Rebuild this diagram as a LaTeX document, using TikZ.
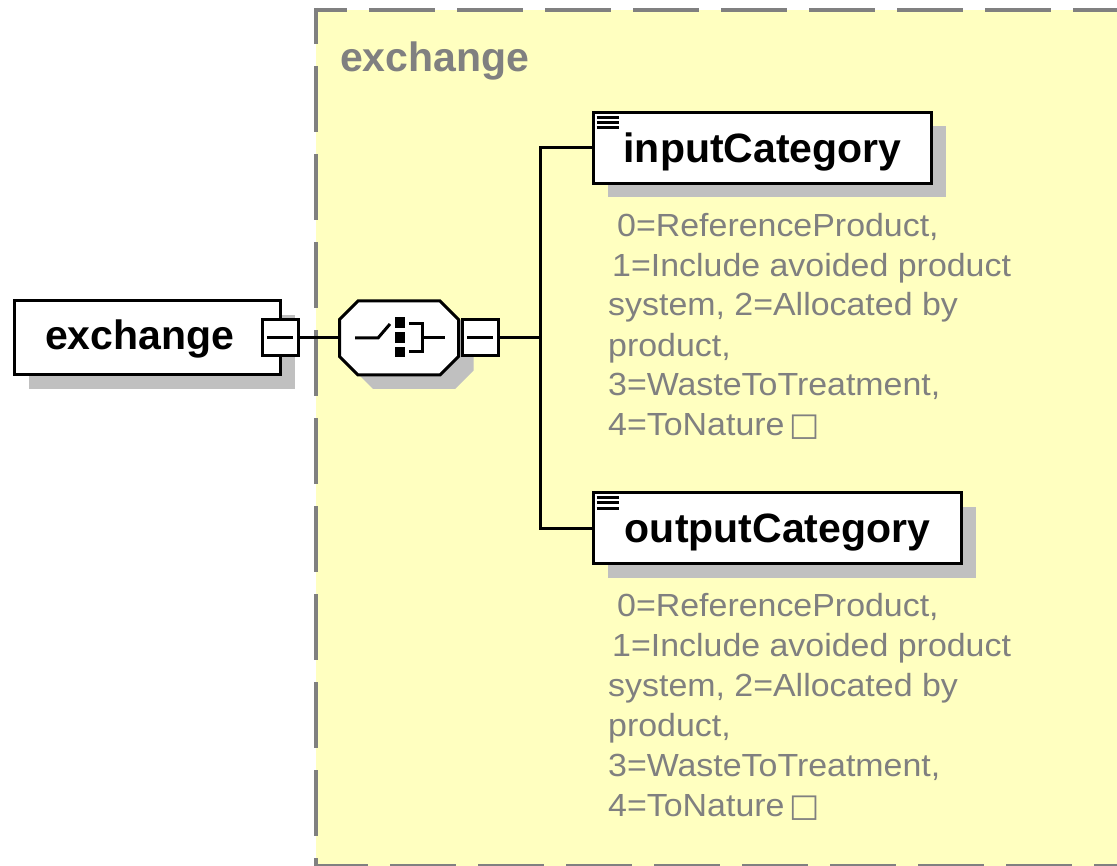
\documentclass[tikz,border=0pt]{standalone}
\usepackage{fontspec}
\setmainfont{Liberation Sans}
\newfontfamily\symfont{DejaVu Sans}
\newfontfamily\annofont[FakeStretch=1.06]{Liberation Sans}
\usetikzlibrary{shadows,calc}
\definecolor{bgyellow}{HTML}{FFFFC0}
\definecolor{txtgray}{HTML}{808080}
\definecolor{shgray}{HTML}{C0C0C0}
\begin{document}
\begin{tikzpicture}[x=1pt,y=-1pt,
  elem/.style={draw=black, line width=3pt, fill=white, rectangle, inner sep=0pt,
    general shadow={fill=shgray, shadow xshift=14pt, shadow yshift=-14pt},
    font=\fontsize{41}{41}\selectfont\bfseries, text depth=0pt},
  boldlbl/.style={inner sep=0pt, font=\fontsize{41}{41}\selectfont\bfseries},
  minbox/.style={draw=black, line width=3pt, fill=white, rectangle, inner sep=0pt,
    minimum size=36pt,
    path picture={\draw[line width=3pt] ([xshift=-13pt]path picture bounding box.center) -- ([xshift=13pt]path picture bounding box.center);}},
  conn/.style={draw=black, line width=3pt},
  anno/.style={text=txtgray, inner sep=0pt, align=left, anchor=base west,
    font=\annofont\fontsize{32}{40}\selectfont},
  border/.style={draw=txtgray, line width=4pt, dash pattern=on 66pt off 22pt},
  icon/.style={draw=black, line width=3pt}
]
\useasboundingbox (0,0) rectangle (1117,866);
\clip (0,0) rectangle (1117,866);
\fill[white] (0,0) rectangle (1117,866);

% group box
\fill[bgyellow] (316,10) rectangle (1150,900);
\draw[border, dash phase=33pt] (314,10) -- (1150,10);
\draw[border, dash phase=30pt] (316,8) -- (316,900);
\draw[border, dash phase=12pt] (314,866) -- (1150,866);
\node[boldlbl, text=txtgray, anchor=base west] (grouplbl) at (340,72) {exchange};

% root element
\node[elem, minimum width=266pt, minimum height=74pt] (exch) at (147.5,338) {};
\node[boldlbl, anchor=base west] (exchlbl) at (45,350) {exchange};
\node[minbox] (exchm) at (280,338) {};

% choice compositor
\node[inner sep=0pt, minimum width=119pt, minimum height=74pt] (cho) at (399,338) {};
\fill[shgray, shift={(414,352)}] (-41,-37) -- (41,-37) -- (59.5,-18.5) -- (59.5,18.5) -- (41,37) -- (-41,37) -- (-59.5,18.5) -- (-59.5,-18.5) -- cycle;
\draw[line width=3pt, fill=white, shift={(cho.center)}] (-41,-37) -- (41,-37) -- (59.5,-18.5) -- (59.5,18.5) -- (41,37) -- (-41,37) -- (-59.5,18.5) -- (-59.5,-18.5) -- cycle;
\draw[icon] (355,338) -- (378,338) -- (390,324);
\fill (394.5,317.5) rectangle (404.5,328);
\fill (394.5,332.5) rectangle (404.5,343);
\fill (394.5,347) rectangle (404.5,357.5);
\draw[icon] (409,324) -- (422,324) -- (422,352) -- (409,352);
\draw[icon] (422,338) -- (445,338);
\node[minbox] (chom) at (480,338) {};

% child elements
\node[elem, minimum width=338pt, minimum height=71pt] (inp) at (762.5,148) {inputCategory};
\node[elem, minimum width=368pt, minimum height=71pt] (out) at (777.5,528) {outputCategory};

% "simple content" icons
\foreach \n in {inp,out}{
  \draw[line width=2.5pt] ($(\n.north west)+(4.5,6.5)$) -- ($(\n.north west)+(26.5,6.5)$);
  \draw[line width=2.5pt] ($(\n.north west)+(4.5,11.5)$) -- ($(\n.north west)+(26.5,11.5)$);
  \draw[line width=3pt] ($(\n.north west)+(4.5,17)$) -- ($(\n.north west)+(26.5,17)$);
}

% connectors
\coordinate (jn) at (540,338);
\draw[conn] (exchm.east) -- (cho.west);
\draw[conn] (chom.east) -- (jn);
\draw[conn] (inp.west) -| (jn) |- (out.west);

% annotations (anchor = baseline of the last line)
\node[anno] (inpdoc) at (608,436) {\hspace*{9pt}0=ReferenceProduct,\\\hspace*{4pt}1=Include avoided product\\system, 2=Allocated by\\product,\\3=WasteToTreatment,\\4=ToNature\,{\symfont □}};
\node[anno] (outdoc) at (608,816) {\hspace*{9pt}0=ReferenceProduct,\\\hspace*{4pt}1=Include avoided product\\system, 2=Allocated by\\product,\\3=WasteToTreatment,\\4=ToNature\,{\symfont □}};
\end{tikzpicture}
\end{document}
